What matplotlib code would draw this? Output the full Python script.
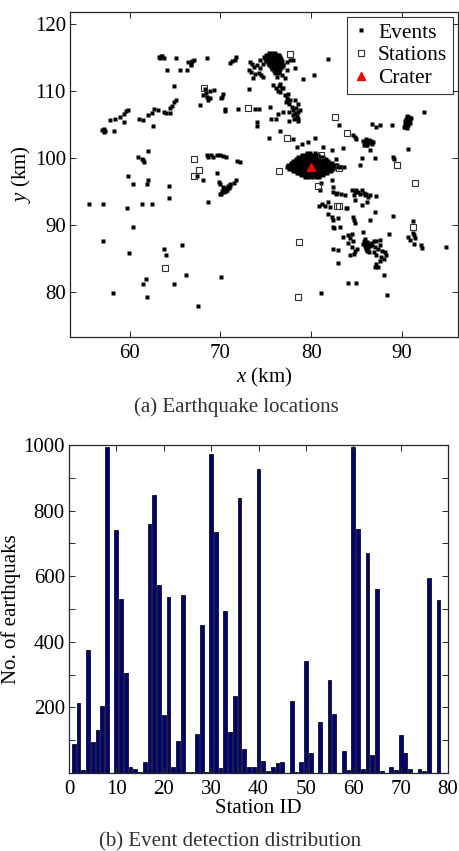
import numpy as np
import matplotlib
matplotlib.use("Agg")
import matplotlib.pyplot as plt

plt.rcParams["font.family"] = ["Liberation Serif", "DejaVu Serif"]
plt.rcParams["mathtext.fontset"] = "custom"
plt.rcParams["mathtext.rm"] = "Liberation Serif"
plt.rcParams["mathtext.it"] = "Liberation Serif:italic"

# ---------------------------------------------------------------- data
station_x = [77.7, 68.2, 73.0, 82.6, 84.0, 77.3, 81.1, 67.1, 89.5, 67.6, 67.1,
             76.5, 83.1, 80.8, 91.5, 82.9, 83.1, 91.2, 78.7, 63.9, 78.5]
station_y = [115.5, 110.4, 107.4, 106.1, 103.7, 103.0, 100.4, 99.9, 98.9, 98.2, 97.4,
             98.0, 98.5, 95.9, 96.3, 92.8, 92.8, 89.7, 87.5, 83.6, 79.3]

crater_x = [80.0]
crater_y = [98.7]

west_events = [
    (63.2, 115.1), (63.4, 115.3), (63.6, 115.2), (63.8, 115.0), (63.3, 114.9),
    (64.1, 113.2), (65.1, 115.0), (65.5, 113.2), (66.4, 114.4), (66.7, 114.1),
    (66.9, 114.5), (66.8, 113.9), (67.1, 114.7), (66.3, 113.1), (68.5, 115.0),
    (64.9, 110.8), (65.1, 108.6), (64.9, 108.3), (64.6, 107.7), (64.4, 107.4),
    (63.8, 106.9), (64.0, 106.8), (64.4, 106.8), (63.1, 107.2), (62.7, 107.3),
    (62.5, 106.7), (62.0, 106.4), (61.0, 105.8), (61.4, 105.7), (59.8, 107.2),
    (59.6, 107.0), (59.4, 106.6), (58.9, 106.1), (58.4, 105.8), (57.8, 105.7),
    (59.4, 105.4), (56.9, 104.2), (57.1, 103.9), (57.3, 104.1), (57.1, 104.4),
    (58.2, 104.0), (62.6, 104.8), (67.7, 107.9),
]

southwest_events = [
    (60.9, 100.2), (61.3, 99.9), (61.5, 99.7), (61.6, 99.4), (62.0, 101.0),
    (59.8, 97.4), (60.4, 96.1), (62.0, 96.7), (61.9, 96.1), (64.3, 95.8),
    (64.3, 94.1), (55.5, 93.1), (57.0, 93.1), (61.3, 93.2), (62.4, 93.2),
    (59.7, 92.6), (60.3, 89.7), (57.0, 87.7), (59.9, 85.8), (63.8, 86.5),
    (64.0, 85.5), (65.7, 87.1), (66.2, 82.6), (61.8, 81.9), (61.5, 81.2),
    (61.9, 79.2), (64.9, 81.2), (58.1, 79.8), (67.5, 78.0), (70.1, 82.2),
]

central_events = [
    (68.5, 100.4), (68.9, 100.5), (69.2, 100.2), (69.6, 100.5), (70.0, 100.4),
    (70.3, 100.3), (70.6, 100.1), (68.6, 100.1), (68.1, 96.8), (69.6, 97.8),
    (69.8, 96.4), (70.0, 96.1), (67.4, 97.4), (68.6, 93.5),
    (70.3, 95.7), (70.5, 95.5), (70.7, 95.3), (70.8, 95.8), (71.0, 96.1),
    (70.4, 94.9), (70.1, 94.7), (70.6, 95.1), (70.2, 95.1), (71.1, 95.8),
    (71.7, 96.7), (71.5, 96.3), (70.0, 94.6), (70.9, 95.5), (70.4, 95.3),
    (71.8, 99.5), (72.2, 99.4),
    (70.3, 109.5), (70.2, 109.1), (70.1, 108.9), (70.5, 107.3), (70.5, 107.0),
    (68.3, 110.3), (68.1, 109.4), (68.5, 109.1), (68.8, 109.0), (68.8, 110.0),
    (69.3, 110.1), (68.4, 109.7), (68.6, 108.6),
    (71.1, 114.2), (71.3, 114.5), (71.7, 115.1), (71.6, 114.7), (71.9, 107.3),
    (73.1, 110.3), (73.8, 107.3), (74.2, 107.3), (74.0, 105.4), (74.0, 104.8),
    (75.5, 107.6), (75.6, 105.8), (75.3, 103.0), (76.6, 104.0), (77.6, 105.6),
    (78.0, 102.9), (79.1, 111.8), (80.3, 112.4), (81.9, 114.8), (78.4, 101.6),
    (79.0, 102.1), (79.7, 102.4), (80.4, 103.0), (76.3, 106.6), (76.9, 106.9),
    (77.6, 106.9), (76.1, 105.8),
]

north_events = [
    (73.1, 113.1), (73.3, 114.4), (73.4, 112.9), (73.5, 114.0), (73.6, 111.9),
    (73.7, 113.6), (73.8, 112.5), (74.0, 113.9), (74.2, 112.7), (74.35, 113.4),
    (74.5, 112.4), (74.7, 112.1), (74.7, 114.1), (74.4, 114.6),
    (76.2, 112.1), (76.5, 112.9), (76.6, 114.1), (76.75, 112.4), (76.9, 113.9),
    (77.1, 111.9), (77.3, 114.4), (77.3, 113.1), (77.7, 114.6), (78.0, 114.6),
    (78.2, 113.4),
    (75.8, 110.9), (76.1, 110.5), (76.4, 110.7), (76.6, 111.1), (76.75, 110.4),
    (76.9, 110.5), (76.3, 110.0), (76.6, 109.9), (77.1, 109.4), (77.3, 108.9),
    (77.5, 108.6), (77.2, 108.4), (77.6, 108.1), (77.7, 108.7), (77.4, 109.6),
    (77.85, 107.6), (78.0, 107.2), (78.2, 106.7), (78.4, 106.3), (78.1, 105.9),
    (78.5, 105.8), (78.0, 106.4), (78.6, 106.9), (78.3, 107.4), (78.8, 107.2),
    (78.2, 108.6), (78.5, 108.1), (78.4, 106.0), (78.6, 105.6),
]

north_blob_rows = [
    (115.7, [75.4, 75.7, 76.0]),
    (115.4, [75.0, 75.3, 75.6, 75.9, 76.2, 76.45]),
    (115.1, [74.8, 75.1, 75.4, 75.7, 76.0, 76.3, 76.6]),
    (114.8, [74.95, 75.25, 75.55, 75.85, 76.15, 76.45, 76.7]),
    (114.5, [75.0, 75.3, 75.6, 75.9, 76.2, 76.5, 76.8]),
    (114.2, [75.2, 75.5, 75.8, 76.1, 76.4, 76.7]),
    (113.9, [75.4, 75.7, 76.0, 76.3, 76.6, 76.9]),
    (113.6, [75.55, 75.85, 76.15, 76.45, 76.75]),
    (113.3, [75.7, 76.0, 76.3, 76.6]),
    (113.0, [75.85, 76.15, 76.45]),
    (112.7, [76.0, 76.3]),
]

crater_blob_rows = [
    (100.8, [79.5, 79.9, 80.4]),
    (100.5, [79.0, 79.3, 79.6, 79.9, 80.2, 80.5, 80.8]),
    (100.2, [78.6, 78.9, 79.2, 79.5, 79.8, 80.1, 80.4, 80.7, 81.0, 81.3]),
    (99.9, [78.3, 78.55, 78.85, 79.15, 79.45, 79.75, 80.05, 80.35, 80.65, 80.95, 81.25, 81.6]),
    (99.6, [78.0, 78.3, 78.6, 78.9, 79.2, 79.5, 79.8, 80.1, 80.4, 80.7, 81.0, 81.3, 81.6, 81.9]),
    (99.3, [77.8, 78.05, 78.35, 78.65, 78.95, 79.25, 79.55, 79.85, 80.15, 80.45, 80.75,
            81.05, 81.35, 81.65, 81.95, 82.3]),
    (99.0, [77.5, 77.8, 78.1, 78.4, 78.7, 79.0, 79.3, 79.6, 79.9, 80.2, 80.5, 80.8,
            81.1, 81.4, 81.7, 82.0, 82.3, 82.6]),
    (98.7, [77.3, 77.6, 77.95, 78.25, 78.55, 78.85, 79.15, 79.45, 79.75, 80.05, 80.35,
            80.65, 80.95, 81.25, 81.55, 81.85, 82.15, 82.45, 82.8]),
    (98.4, [77.6, 77.9, 78.2, 78.5, 78.8, 79.1, 79.4, 79.7, 80.0, 80.3, 80.6, 80.9,
            81.2, 81.5, 81.8, 82.1, 82.4]),
    (98.1, [78.0, 78.3, 78.6, 78.9, 79.2, 79.5, 79.8, 80.1, 80.4, 80.7, 81.0, 81.3,
            81.6, 81.9, 82.2]),
    (97.8, [78.4, 78.7, 79.0, 79.3, 79.6, 79.9, 80.2, 80.5, 80.8, 81.1, 81.4, 81.7]),
    (97.5, [78.9, 79.2, 79.5, 79.8, 80.1, 80.4, 80.7, 81.0, 81.3]),
    (97.2, [79.3, 79.7, 80.1, 80.5, 80.9]),
]

east_events = [
    (90.6, 106.3), (90.8, 106.1), (90.5, 105.9), (90.7, 105.7), (90.9, 105.9),
    (90.4, 105.5), (90.6, 105.3), (90.8, 105.5), (90.3, 105.1), (90.5, 104.9),
    (90.7, 105.0), (90.2, 104.7), (90.4, 104.6), (90.9, 105.2), (91.0, 106.0),
    (90.6, 104.5), (92.5, 106.9),
    (85.7, 102.6), (85.9, 102.3), (86.1, 102.5), (86.3, 102.2), (86.5, 102.4),
    (86.7, 102.1), (86.2, 101.9), (86.0, 102.0), (85.8, 101.9), (86.4, 102.7),
    (86.6, 102.6), (86.8, 102.4), (86.1, 102.8),
    (86.7, 105.1), (87.2, 104.6), (87.6, 104.9), (88.9, 104.9), (83.1, 104.9),
    (84.6, 103.4), (84.8, 103.1), (85.0, 102.8), (83.5, 101.5), (85.6, 100.0),
    (87.0, 100.0), (86.5, 101.2), (85.4, 98.9), (90.7, 101.3), (89.0, 100.1),
    (89.1, 99.8), (82.9, 98.9), (83.2, 98.6), (83.6, 98.7), (82.3, 101.2),
    (82.7, 99.9), (81.3, 101.7),
]

southeast_events = [
    (82.3, 96.7), (81.05, 96.3), (82.45, 95.7), (81.0, 95.3),
    (82.4, 94.9), (82.7, 94.6), (82.9, 94.8), (83.3, 94.6), (83.7, 94.5),
    (84.5, 95.2), (84.8, 95.0), (85.2, 94.95), (85.4, 94.7), (85.8, 94.8),
    (85.9, 94.55), (86.1, 94.7), (85.6, 95.3), (85.0, 95.3), (84.7, 94.45),
    (86.5, 94.5), (87.2, 94.3), (86.3, 94.2), (84.8, 93.7), (85.6, 93.0),
    (86.2, 93.4), (84.0, 92.5), (87.0, 91.9), (89.0, 91.3),
    (81.2, 93.2), (81.5, 92.9), (81.9, 93.5), (82.1, 92.7), (80.9, 92.8),
    (81.9, 91.7), (82.3, 91.2), (82.45, 90.7), (82.4, 89.7), (82.5, 89.5),
    (83.0, 91.0), (83.2, 89.7), (83.9, 92.6), (84.6, 91.2), (84.7, 90.7),
    (84.8, 90.3), (86.5, 90.7), (88.6, 88.6), (85.7, 89.0),
    (82.45, 86.5), (83.0, 86.3), (83.0, 84.4),
    (83.5, 88.2), (84.1, 88.5), (84.3, 88.1), (84.5, 88.6), (84.6, 87.7),
    (84.1, 87.3), (84.5, 86.7), (84.7, 85.7), (84.3, 85.5), (84.8, 86.2),
    (85.1, 86.5),
    (85.8, 87.6), (86.0, 87.3), (86.2, 87.5), (86.4, 87.1), (85.9, 86.9),
    (86.1, 86.7), (86.3, 86.5), (86.5, 86.9), (86.0, 86.4), (85.7, 87.2),
    (86.2, 86.2), (86.6, 87.4), (85.9, 87.9), (86.4, 86.0),
    (86.9, 87.7), (87.2, 87.6), (87.6, 87.8), (86.7, 87.0), (87.05, 86.7),
    (87.4, 86.5), (87.8, 86.2), (87.6, 87.0), (86.9, 86.0), (87.2, 85.5),
    (87.7, 85.2), (87.2, 84.2), (87.05, 83.7), (87.4, 83.7), (88.2, 86.0),
    (88.3, 85.5), (88.0, 85.0), (87.6, 84.7),
    (88.0, 82.5), (88.4, 79.5), (84.1, 81.3), (85.0, 81.4), (81.05, 79.9),
    (91.2, 90.6), (90.7, 88.2), (90.85, 87.8), (91.2, 88.8), (91.3, 88.5),
    (91.5, 88.1), (91.3, 87.2), (92.1, 87.0), (92.2, 86.6), (94.9, 86.8),
]

station_ids = list(range(1, 79))
detections = [88, 213, 10, 376, 96, 132, 205, 995, 0, 741,
              531, 306, 18, 13, 3, 34, 760, 848, 574, 178,
              538, 17, 98, 543, 3, 2, 119, 452, 3, 972,
              734, 15, 494, 125, 236, 839, 73, 17, 17, 928,
              36, 5, 17, 32, 35, 0, 220, 3, 35, 342,
              60, 0, 156, 0, 284, 181, 0, 66, 8, 993,
              743, 12, 671, 55, 561, 6, 0, 19, 8, 117,
              61, 13, 0, 13, 6, 594, 0, 528]

# ---------------------------------------------------------------- assemble
pts = west_events + southwest_events + central_events + north_events + east_events + southeast_events
ev_x = [p[0] for p in pts]
ev_y = [p[1] for p in pts]
for yrow, xs in north_blob_rows + crater_blob_rows:
    ev_x += xs
    ev_y += [yrow] * len(xs)

fig = plt.figure(figsize=(4.59, 8.51), dpi=100)

spine_col = "#262626"
fs = 15

# ---------------------------------------------------------------- (a) map
ax1 = fig.add_axes([70 / 459, 1 - 337 / 851, 388 / 459, 325 / 851])
ax1.plot(ev_x, ev_y, "s", ms=2.3, mfc="black", mec="none", label="Events")
ax1.plot(station_x, station_y, "s", ms=5.0, mfc="none", mec="#303030", mew=0.8, label="Stations")
ax1.plot(crater_x, crater_y, "^", ms=6.0, mfc="red", mec="red", label="Crater")
ax1.set_xlim(53.4, 96.2)
ax1.set_ylim(73.3, 121.8)
ax1.set_xticks([60, 70, 80, 90])
ax1.set_yticks([80, 90, 100, 110, 120])
ax1.set_xlabel("$x$ (km)", fontsize=fs, labelpad=2)
ax1.set_ylabel("$y$ (km)", fontsize=fs, labelpad=1)
leg = ax1.legend(loc="upper right", fontsize=15.5, frameon=True, fancybox=False,
                 borderaxespad=0.25, handlelength=0.8, handletextpad=0.4,
                 borderpad=0.25, labelspacing=0.12, markerscale=1.0)
leg.get_frame().set_edgecolor("black")
leg.get_frame().set_linewidth(0.8)
leg.legend_handles[0].set_markersize(3)

# ---------------------------------------------------------------- (b) bars
ax2 = fig.add_axes([69 / 459, 1 - 773 / 851, 379 / 459, 328 / 851])
ax2.bar(station_ids, detections, width=0.8, color="#000080", edgecolor="#101010", linewidth=0.6)
ax2.set_xlim(0, 80)
ax2.set_ylim(0, 1000)
ax2.set_xticks(range(0, 81, 10))
ax2.set_yticks(range(0, 1001, 100))
ax2.set_yticklabels(["" if (v == 0 or v % 200) else str(v) for v in range(0, 1001, 100)])
ax2.set_xlabel("Station ID", fontsize=fs, labelpad=0)
ax2.set_ylabel("No. of earthquaks", fontsize=fs, labelpad=2)

for ax in (ax1, ax2):
    ax.tick_params(direction="in", top=True, right=True, labelsize=fs,
                   length=4, width=0.7, color=spine_col)
    ax.tick_params(axis="x", pad=5)
    ax.tick_params(axis="y", pad=3)
    for s in ax.spines.values():
        s.set_color(spine_col)
        s.set_linewidth(0.9)

fig.text(236 / 459, 1 - 407 / 851, "(a) Earthquake locations", ha="center", va="center",
         fontsize=fs, color="#303030")
fig.text(230 / 459, 1 - 842 / 851, "(b) Event detection distribution", ha="center", va="center",
         fontsize=fs, color="#303030")

fig.savefig("out.png", dpi=100)
